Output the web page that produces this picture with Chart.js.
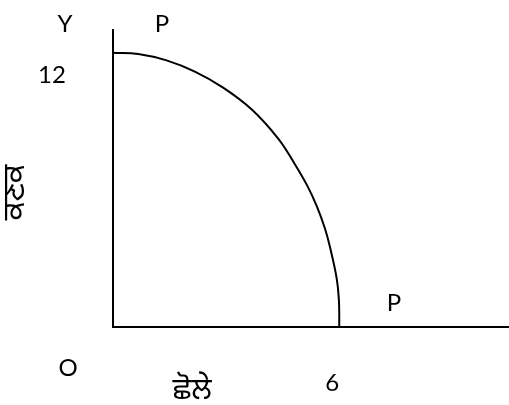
<!DOCTYPE html>
<html>
  <head>
    <meta charset="utf-8">
    <title>Production Possibility Curve</title>
    <script src="https://cdn.jsdelivr.net/npm/chart.js"></script>
    <style>
    html, body {
      margin: 0;
      padding: 0;
      background: #fff;
    }
    #ppcChart {
      display: block;
    }
  </style>
  </head>
  <body> <canvas id="ppcChart" width="509" height="405"></canvas>
    <script>
    // curve points: chickpeas (x) against wheat (y)
    const chickpeas = [0, 0.67, 1.42, 2.17, 2.92, 3.68, 4.38, 4.78, 5.14, 5.4, 5.62, 5.75, 5.93, 5.99, 6];
    const wheat = [12, 11.95, 11.67, 11.18, 10.48, 9.52, 8.25, 7.24, 6.22, 5.3, 4.31, 3.52, 2.14, 1.18, 0];
    const xTitle = "ਛੋਲੇ";
    const yTitle = "ਕਣਕ";
    const yMarkLabel = "12";
    const xMarkLabel = "6";

    const points = chickpeas.map((x, i) => ({ x: x, y: wheat[i] }));
    const font = "24px Lato, 'Open Sans', sans-serif";
    const gurmukhiFont = "30px 'Noto Sans Gurmukhi', 'Noto Sans', sans-serif";

    // text around the axes, placed from the scales
    const labelPlugin = {
      id: "labels",
      afterDraw(chart) {
        const ctx = chart.ctx;
        const xs = chart.scales.x;
        const ys = chart.scales.y;
        const left = xs.left;
        const bottom = ys.bottom;
        ctx.save();
        ctx.fillStyle = "#000";
        ctx.textAlign = "center";
        ctx.textBaseline = "middle";
        ctx.font = font;
        ctx.fillText("Y", left - 48, ys.top - 6);
        ctx.fillText("P", xs.getPixelForValue(1.3), ys.top - 6);
        ctx.fillText(yMarkLabel, left - 61, ys.getPixelForValue(12) + 22);
        ctx.fillText("O", left - 45, bottom + 41);
        ctx.fillText(xMarkLabel, xs.getPixelForValue(6) - 7, bottom + 56);
        ctx.fillText("P", xs.getPixelForValue(7.45), bottom - 24);
        ctx.font = gurmukhiFont;
        ctx.fillText(xTitle, xs.getPixelForValue(2.1), bottom + 66);
        ctx.translate(left - 95, ys.getPixelForValue(5.9));
        ctx.rotate(-Math.PI / 2);
        ctx.fillText(yTitle, 0, 0);
        ctx.restore();
      }
    };

    const ctx = document.getElementById("ppcChart").getContext("2d");
    new Chart(ctx, {
      type: "scatter",
      data: {
        datasets: [
          {
            label: "PP",
            data: points,
            showLine: true,
            fill: false,
            borderColor: "#000",
            borderWidth: 2,
            pointRadius: 0,
            tension: 0.4
          }
        ]
      },
      options: {
        responsive: false,
        animation: false,
        layout: {
          autoPadding: false,
          padding: { left: 113, top: 30, right: 0, bottom: 78 }
        },
        plugins: {
          legend: { display: false },
          tooltip: { enabled: false }
        },
        scales: {
          x: {
            min: 0,
            max: 10.5,
            grid: { display: false, drawTicks: false, tickLength: 0 },
            ticks: { display: false },
            border: { display: true, color: "#000", width: 2 }
          },
          y: {
            min: 0,
            max: 13,
            grid: { display: false, drawTicks: false, tickLength: 0 },
            ticks: { display: false },
            border: { display: true, color: "#000", width: 2 }
          }
        }
      },
      plugins: [labelPlugin]
    });
  </script>
  </body>
</html>
